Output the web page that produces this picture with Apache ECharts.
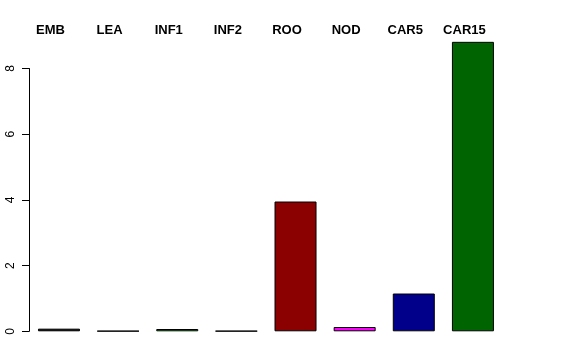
<!DOCTYPE html>
<html>
<head>
<meta charset="utf-8">
<script src="https://cdn.jsdelivr.net/npm/echarts@6/dist/echarts.min.js"></script>
<style>html,body{margin:0;padding:0;background:#fff;}#c{width:576px;height:360px;}</style>
</head>
<body>
<div id="c"></div>
<script>
const categories = ['EMB', 'LEA', 'INF1', 'INF2', 'ROO', 'NOD', 'CAR5', 'CAR15'];
const values = [0.08, 0.01, 0.07, 0.01, 3.95, 0.13, 1.15, 8.81];
const barColors = ['#000000', '#A0522D', '#00C000', '#4169E1', '#8B0000', '#FF00FF', '#00008B', '#006400'];
const yTicks = [0, 2, 4, 6, 8];

const chart = echarts.init(document.getElementById('c'), null, {renderer: 'canvas'});
const font = 'Liberation Sans, Arial, Helvetica, sans-serif';
chart.setOption({
  animation: false,
  backgroundColor: '#ffffff',
  grid: [
    {left: 29.4, right: 73.5, top: 35.6, bottom: 28.7},
    {left: 29, right: 73.5, top: 68.5, bottom: 28.7}
  ],
  xAxis: [
    {
      type: 'category', gridIndex: 0, position: 'top', data: categories,
      axisLine: {show: false}, axisTick: {show: false},
      axisLabel: {
        interval: 0, margin: -1, color: '#000', fontWeight: 'bold',
        fontSize: 13, fontFamily: font, padding: [0, 17, 0, 0]
      },
      splitLine: {show: false}
    },
    {type: 'category', gridIndex: 1, data: categories, show: false}
  ],
  yAxis: [
    {type: 'value', gridIndex: 0, min: 0, max: 9, show: false, splitLine: {show: false}},
    {
      type: 'value', gridIndex: 1, min: 0, max: 8, interval: 2,
      axisLine: {show: true, lineStyle: {color: '#000', width: 1}},
      axisTick: {show: true, length: 7, lineStyle: {color: '#000'}},
      axisLabel: {
        rotate: 90, margin: 12, color: '#000', fontSize: 12, fontFamily: font,
        formatter: v => (yTicks.indexOf(v) >= 0 ? String(v) : '')
      },
      splitLine: {show: false}
    }
  ],
  series: [{
    type: 'bar', xAxisIndex: 0, yAxisIndex: 0,
    barWidth: 42,
    data: values.map((v, i) => ({value: v, itemStyle: {color: barColors[i]}})),
    itemStyle: {borderColor: '#000', borderWidth: 1}
  }]
});
</script>
</body>
</html>
